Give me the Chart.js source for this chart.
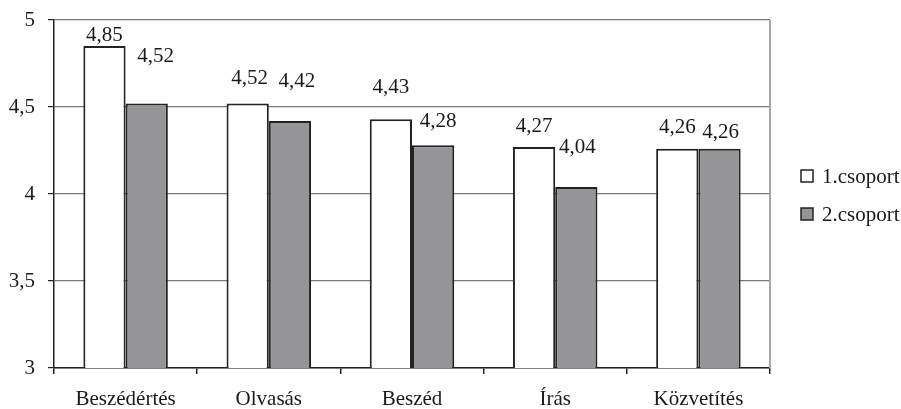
<!DOCTYPE html>
<html>
<head>
<meta charset="utf-8">
<script src="https://cdn.jsdelivr.net/npm/chart.js@4"></script>
<style>
  html, body { margin: 0; padding: 0; background: #fff; }
  #wrap { width: 901px; height: 409px; position: relative; }
</style>
</head>
<body>
<div id="wrap"><canvas id="chart" width="901" height="409"></canvas></div>
<script>
const categories = ['Beszédértés', 'Olvasás', 'Beszéd', 'Írás', 'Közvetítés'];
const group1 = [4.85, 4.52, 4.43, 4.27, 4.26];
const group2 = [4.52, 4.42, 4.28, 4.04, 4.26];
const seriesNames = ['1.csoport', '2.csoport'];
const yTicks = [3, 3.5, 4, 4.5, 5];

// how far each value label sits above its bar (px), and sideways nudge
const labelLift = [[11, 25, 32, 21, 21], [47, 39, 24, 40, 16]];
const labelNudge = [[0, 2, 0, 0, 0], [9, 7, 5, 1, 1]];

const FONT = '"Liberation Serif", "Times New Roman", serif';
const SIZE = 21;
const fmt = v => String(v).replace('.', ',');

const valueLabels = {
    id: 'valueLabels',
    afterDatasetsDraw(chart) {
        const ctx = chart.ctx;
        ctx.save();
        ctx.font = SIZE + 'px ' + FONT;
        ctx.fillStyle = '#1a1a1a';
        ctx.textAlign = 'center';
        ctx.textBaseline = 'middle';
        chart.data.datasets.forEach((ds, di) => {
            chart.getDatasetMeta(di).data.forEach((bar, i) => {
                ctx.fillText(fmt(ds.data[i]), bar.x + labelNudge[di][i], bar.y - labelLift[di][i]);
            });
        });
        ctx.restore();
    }
};

const frameAndLegend = {
    id: 'frameAndLegend',
    beforeDatasetsDraw(chart) {
        const a = chart.chartArea;
        const ctx = chart.ctx;
        ctx.save();
        ctx.strokeStyle = '#a8a8a8';
        ctx.lineWidth = 2;
        ctx.beginPath();
        ctx.moveTo(a.right, a.top);
        ctx.lineTo(a.right, a.bottom);
        ctx.stroke();
        ctx.restore();
    },
    afterDraw(chart) {
        const ctx = chart.ctx;
        ctx.save();
        ctx.font = SIZE + 'px ' + FONT;
        ctx.textBaseline = 'middle';
        chart.data.datasets.forEach((ds, i) => {
            const y = 176 + i * 38;
            ctx.fillStyle = ds.backgroundColor;
            ctx.fillRect(801, y - 6, 12, 12);
            ctx.strokeStyle = '#222';
            ctx.lineWidth = 1.5;
            ctx.strokeRect(801, y - 6, 12, 12);
            ctx.fillStyle = '#1a1a1a';
            ctx.fillText(ds.label, 822, y + 1);
        });
        ctx.restore();
    }
};

new Chart(document.getElementById('chart'), {
    type: 'bar',
    data: {
        labels: categories,
        datasets: [
            {
                label: seriesNames[0],
                data: group1,
                backgroundColor: '#ffffff',
                borderColor: '#222222',
                borderWidth: 2,
                borderSkipped: false,
                categoryPercentage: 0.59,
                barPercentage: 1
            },
            {
                label: seriesNames[1],
                data: group2,
                backgroundColor: '#959597',
                borderColor: '#222222',
                borderWidth: 2,
                borderSkipped: false,
                categoryPercentage: 0.59,
                barPercentage: 1
            }
        ]
    },
    options: {
        responsive: false,
        animation: false,
        events: [],
        layout: { padding: { top: 20, right: 131, left: 0, bottom: 0 } },
        plugins: {
            legend: { display: false },
            tooltip: { enabled: false }
        },
        scales: {
            x: {
                afterFit(scale) {
                    scale.height = 41;
                    scale.paddingLeft = 0;
                    scale.paddingRight = 0;
                },
                grid: {
                    offset: true,
                    drawOnChartArea: false,
                    drawTicks: true,
                    tickLength: 6,
                    tickColor: '#222',
                    lineWidth: 1.5
                },
                border: { display: true, color: '#222', width: 1.5 },
                ticks: {
                    color: '#1a1a1a',
                    padding: 13,
                    font: { family: FONT, size: SIZE }
                }
            },
            y: {
                min: yTicks[0],
                max: yTicks[yTicks.length - 1],
                afterFit(scale) {
                    scale.width = 54;
                    scale.paddingTop = 0;
                    scale.paddingBottom = 0;
                },
                afterBuildTicks(scale) {
                    scale.ticks = yTicks.map(v => ({ value: v }));
                },
                grid: {
                    color: '#7a7a7a',
                    lineWidth: 1.2,
                    drawTicks: true,
                    tickLength: 6,
                    tickColor: '#222'
                },
                border: { display: true, color: '#222', width: 1.5 },
                ticks: {
                    color: '#1a1a1a',
                    padding: 13,
                    font: { family: FONT, size: SIZE },
                    callback: v => fmt(v)
                }
            }
        }
    },
    plugins: [frameAndLegend, valueLabels]
});
</script>
</body>
</html>
